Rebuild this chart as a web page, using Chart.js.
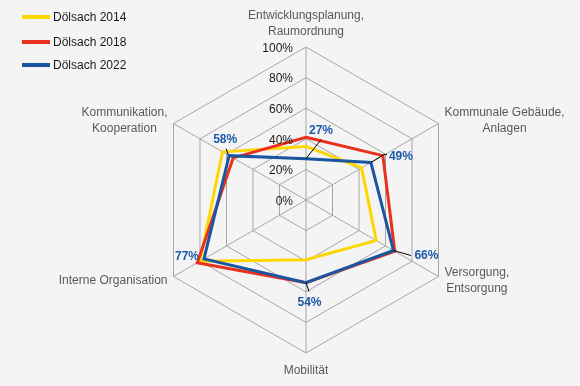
<!DOCTYPE html>
<html><head><meta charset="utf-8">
<script src="https://cdn.jsdelivr.net/npm/chart.js@4/dist/chart.umd.min.js"></script>
<style>html,body{margin:0;padding:0;background:#f4f4f4;}#wrap{width:580px;height:386px;position:relative}</style>
</head><body><div id="wrap"><canvas id="c" width="580" height="386"></canvas></div>
<script>
const categories = [["Entwicklungsplanung,","Raumordnung"],["Kommunale Gebäude,","Anlagen"],["Versorgung,","Entsorgung"],["Mobilität"],["Interne Organisation"],["Kommunikation,","Kooperation"]];
const seriesNames = ["Dölsach 2014","Dölsach 2018","Dölsach 2022"];
const values2014 = [35,42,53,39,80,63];
const values2018 = [41,58,67,54,82,55];
const values2022 = [27,49,66,54,77,58];
const tickValues = [0,20,40,60,80,100];
const tickLabels = ["0%","20%","40%","60%","80%","100%"];
const seriesColors = ["#ffd700","#e8321e","#1a56a0"];

const FONT = '"Liberation Sans", Arial, sans-serif';
const dataLabelOffsets = [[15,-28],[30,-5.5],[33,5],[3.5,20],[-17,-2.5],[-4,-16]];
const leaders = [[[0,0],[15,-19]],[[0,0],[13,-8],[16,-8]],[[0,0],[17.5,5]],[[0,0],[3,9]],null,[[-1,-1],[-3,-7]]];

const customPlugin = {
  id: 'custom',
  afterDatasetsDraw(chart) {
    const ctx = chart.ctx, s = chart.scales.r;
    const cx = s.xCenter, cy = s.yCenter, R = s.drawingArea;
    ctx.save();
    // tick labels
    ctx.font = '12px ' + FONT; ctx.fillStyle = '#1a1a1a';
    ctx.textAlign = 'right'; ctx.textBaseline = 'middle';
    tickValues.forEach((v, i) => {
      const y = cy - s.getDistanceFromCenterForValue(v);
      ctx.fillText(tickLabels[i], cx - 13, y + 1.5);
    });
    // point labels
    ctx.fillStyle = '#595959'; ctx.textAlign = 'center';
    categories.forEach((lines, i) => {
      const p = s.getPointPosition(i, R);
      const lh = 16, n = lines.length;
      const w = Math.max(...lines.map(l => ctx.measureText(l).width));
      const dx = p.x - cx, dy = p.y - cy;
      let bx, by;
      if (Math.abs(dx) < 1) { bx = p.x; by = dy < 0 ? p.y - 7 - n * lh / 2 : p.y + 10 + n * lh / 2; }
      else { bx = dx > 0 ? p.x + 6 + w / 2 : p.x - 6 - w / 2; by = dy < 0 ? p.y - 2.5 : p.y + 4.5; }
      lines.forEach((l, k) => ctx.fillText(l, bx, by + (k - (n - 1) / 2) * lh));
    });
    // leader lines + data labels for 2022
    const meta = chart.getDatasetMeta(2);
    ctx.strokeStyle = '#000'; ctx.lineWidth = 1;
    meta.data.forEach((pt, i) => {
      const L = leaders[i];
      if (L) {
        ctx.beginPath();
        L.forEach((o, k) => { if (k === 0) ctx.moveTo(pt.x + o[0], pt.y + o[1]); else ctx.lineTo(pt.x + o[0], pt.y + o[1]); });
        ctx.stroke();
      }
    });
    ctx.font = 'bold 12px ' + FONT; ctx.fillStyle = '#1e5aa8';
    ctx.textAlign = 'center'; ctx.textBaseline = 'middle';
    meta.data.forEach((pt, i) => {
      const o = dataLabelOffsets[i];
      ctx.fillText(values2022[i] + '%', pt.x + o[0], pt.y + o[1]);
    });
    // legend
    ctx.font = '12px ' + FONT; ctx.fillStyle = '#1a1a1a'; ctx.textAlign = 'left';
    ctx.lineWidth = 4; ctx.lineCap = 'butt';
    const ly = [17, 42, 65];
    seriesNames.forEach((name, i) => {
      ctx.strokeStyle = seriesColors[i];
      ctx.beginPath(); ctx.moveTo(22, ly[i]); ctx.lineTo(50, ly[i]); ctx.stroke();
      ctx.fillText(name, 53, ly[i] + 0.5);
    });
    ctx.restore();
  }
};

const allValues = [values2014, values2018, values2022];
new Chart(document.getElementById('c'), {
  type: 'radar',
  data: {
    labels: categories,
    datasets: allValues.map((vals, i) => ({
      label: seriesNames[i],
      data: vals,
      borderColor: seriesColors[i],
      backgroundColor: 'transparent',
      borderWidth: 3,
      borderJoinStyle: 'miter',
      pointRadius: 0,
      fill: false,
      order: 2 - i
    }))
  },
  options: {
    responsive: false,
    animation: false,
    devicePixelRatio: 1,
    layout: { padding: { left: 153, right: 121, top: 47, bottom: 33 } },
    plugins: { legend: { display: false }, tooltip: { enabled: false } },
    scales: {
      r: {
        min: 0, max: 100,
        ticks: { display: false, stepSize: 20 },
        pointLabels: { display: false },
        grid: { color: '#a6a6a6', lineWidth: 1 },
        angleLines: { color: '#a6a6a6', lineWidth: 1 }
      }
    }
  },
  plugins: [customPlugin]
});
</script>
</body></html>
